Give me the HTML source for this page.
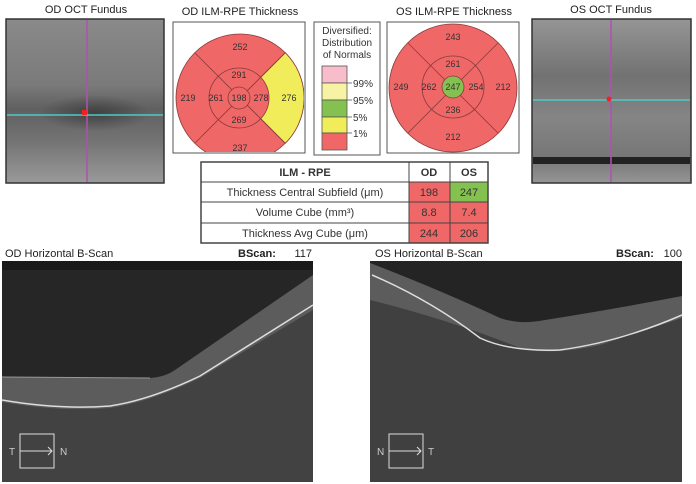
<!DOCTYPE html>
<html><head><meta charset="utf-8"><style>
html,body{margin:0;padding:0;background:#fff;}
svg{display:block;font-family:"Liberation Sans",sans-serif;}
</style></head><body>
<svg width="696" height="484" viewBox="0 0 696 484" xmlns="http://www.w3.org/2000/svg">
<defs>
<linearGradient id="odf" x1="0" y1="0" x2="0" y2="1">
<stop offset="0" stop-color="#8a8a8a"/><stop offset="0.4" stop-color="#7a7a7a"/><stop offset="0.55" stop-color="#606060"/><stop offset="0.75" stop-color="#747474"/><stop offset="1" stop-color="#9a9a9a"/></linearGradient>
<radialGradient id="odspot" cx="0.5" cy="0.5" r="0.5"><stop offset="0" stop-color="#333" stop-opacity="0.7"/><stop offset="1" stop-color="#333" stop-opacity="0"/></radialGradient>
<linearGradient id="osf" x1="0" y1="0" x2="0" y2="1">
<stop offset="0" stop-color="#959595"/><stop offset="0.35" stop-color="#727272"/><stop offset="0.6" stop-color="#858585"/><stop offset="0.85" stop-color="#767676"/><stop offset="1" stop-color="#959595"/></linearGradient>
</defs>

<g font-size="11" fill="#222" text-anchor="middle">
<text x="86" y="13">OD OCT Fundus</text>
<text x="240" y="15">OD ILM-RPE Thickness</text>
<text x="454" y="15">OS ILM-RPE Thickness</text>
<text x="611" y="13">OS OCT Fundus</text>
</g>

<!-- OD fundus -->
<rect x="6" y="19" width="158" height="164" fill="url(#odf)"/>
<ellipse cx="95" cy="113" rx="55" ry="18" fill="url(#odspot)"/>
<rect x="6" y="19" width="158" height="164" fill="none" stroke="#333" stroke-width="1.5"/>
<line x1="87" y1="20" x2="87" y2="182" stroke="#b050b0" stroke-width="1.5"/>
<line x1="7" y1="115" x2="163" y2="115" stroke="#50c8c8" stroke-width="1.5"/>
<rect x="82" y="110" width="5" height="5" fill="#e22"/>

<!-- OS fundus -->
<rect x="532" y="19" width="159" height="164" fill="url(#osf)"/>
<rect x="533" y="157" width="157" height="7" fill="#222"/>
<rect x="532" y="19" width="159" height="164" fill="none" stroke="#333" stroke-width="1.5"/>
<line x1="611" y1="20" x2="611" y2="182" stroke="#b050b0" stroke-width="1.5"/>
<line x1="533" y1="100" x2="690" y2="100" stroke="#50c8c8" stroke-width="1.5"/>
<circle cx="609" cy="99" r="2.5" fill="#e22"/>

<!-- OD thickness map -->
<rect x="173" y="22" width="132" height="131" fill="#fff" stroke="#555"/>
<clipPath id="c1"><rect x="174" y="23" width="130" height="129"/></clipPath>
<g clip-path="url(#c1)">
<circle cx="240" cy="98" r="64" fill="#ef6767" stroke="#8a3a3a" stroke-width="0.8"/>
<path d="M240 98 L285.3 52.7 A64 64 0 0 1 285.3 143.3 Z" fill="#f1ec5a" stroke="#8a3a3a" stroke-width="0.8"/>
<circle cx="239" cy="98" r="30" fill="#ef6767" stroke="#8a3a3a" stroke-width="0.8"/>
<line x1="195" y1="53" x2="285" y2="143" stroke="#8a3a3a" stroke-width="0.8"/>
<line x1="285" y1="53" x2="195" y2="143" stroke="#8a3a3a" stroke-width="0.8"/>
<circle cx="239" cy="98" r="11" fill="#ef6767" stroke="#8a3a3a" stroke-width="0.8"/>
</g>
<g font-size="9" fill="#333" text-anchor="middle">
<text x="240" y="50">252</text><text x="239" y="78">291</text>
<text x="188" y="101">219</text><text x="216" y="101">261</text>
<text x="239" y="101">198</text><text x="261" y="101">278</text>
<text x="289" y="101">276</text><text x="239" y="123">269</text>
<text x="240" y="151">237</text>
</g>

<!-- legend -->
<rect x="314" y="22" width="66" height="133" fill="#fff" stroke="#555"/>
<g font-size="10" fill="#333" text-anchor="middle">
<text x="347" y="34">Diversified:</text><text x="347" y="46">Distribution</text><text x="347" y="58">of Normals</text>
</g>
<g stroke="#555" stroke-width="0.8">
<rect x="322" y="66" width="25" height="17" fill="#f9bccb"/>
<rect x="322" y="83" width="25" height="17" fill="#f8f2a4"/>
<rect x="322" y="100" width="25" height="17" fill="#85c150"/>
<rect x="322" y="117" width="25" height="16" fill="#f1ec5a"/>
<rect x="322" y="133" width="25" height="17" fill="#ef6767"/>
<line x1="347" y1="83" x2="352" y2="83"/><line x1="347" y1="100" x2="352" y2="100"/>
<line x1="347" y1="117" x2="352" y2="117"/><line x1="347" y1="133" x2="352" y2="133"/>
</g>
<g font-size="10" fill="#333">
<text x="353" y="87">99%</text><text x="353" y="104">95%</text><text x="353" y="121">5%</text><text x="353" y="137">1%</text>
</g>

<!-- OS thickness map -->
<rect x="387" y="22" width="132" height="131" fill="#fff" stroke="#555"/>
<circle cx="453" cy="88" r="64" fill="#ef6767" stroke="#8a3a3a" stroke-width="0.8"/>
<circle cx="453" cy="87" r="31" fill="#ef6767" stroke="#8a3a3a" stroke-width="0.8"/>
<line x1="408" y1="43" x2="498" y2="133" stroke="#8a3a3a" stroke-width="0.8"/>
<line x1="498" y1="43" x2="408" y2="133" stroke="#8a3a3a" stroke-width="0.8"/>
<circle cx="453" cy="87" r="11" fill="#85c150" stroke="#8a3a3a" stroke-width="0.8"/>
<g font-size="9" fill="#333" text-anchor="middle">
<text x="453" y="40">243</text><text x="453" y="67">261</text>
<text x="401" y="90">249</text><text x="429" y="90">262</text>
<text x="453" y="90">247</text><text x="476" y="90">254</text>
<text x="503" y="90">212</text><text x="453" y="113">236</text>
<text x="453" y="140">212</text>
</g>

<!-- table -->
<g stroke="#444" stroke-width="1">
<rect x="409" y="182" width="41" height="61" fill="#ef6767" stroke="none"/>
<rect x="450" y="202" width="38" height="41" fill="#ef6767" stroke="none"/>
<rect x="450" y="182" width="38" height="20" fill="#85c150" stroke="none"/>
<rect x="201" y="162" width="287" height="81" fill="none" stroke-width="1.5"/>
<line x1="201" y1="182" x2="488" y2="182"/><line x1="201" y1="202" x2="488" y2="202"/><line x1="201" y1="223" x2="488" y2="223"/>
<line x1="409" y1="162" x2="409" y2="243"/><line x1="450" y1="162" x2="450" y2="243"/>
</g>
<g font-size="11" fill="#333" text-anchor="middle">
<text x="305" y="176" font-weight="bold">ILM - RPE</text>
<text x="429" y="176" font-weight="bold">OD</text><text x="469" y="176" font-weight="bold">OS</text>
<text x="305" y="196">Thickness Central Subfield (μm)</text>
<text x="305" y="216">Volume Cube (mm³)</text>
<text x="305" y="237">Thickness Avg Cube (μm)</text>
<text x="429" y="196">198</text><text x="469" y="196">247</text>
<text x="429" y="216">8.8</text><text x="469" y="216">7.4</text>
<text x="429" y="237">244</text><text x="469" y="237">206</text>
</g>

<g font-size="11" fill="#222">
<text x="5" y="257">OD Horizontal B-Scan</text>
<text x="238" y="257" font-weight="bold">BScan:</text><text x="312" y="257" text-anchor="end">117</text>
<text x="375" y="257">OS Horizontal B-Scan</text>
<text x="616" y="257" font-weight="bold">BScan:</text><text x="682" y="257" text-anchor="end">100</text>
</g>

<!-- OD B-scan -->
<clipPath id="c2"><rect x="2" y="261" width="311" height="221"/></clipPath>
<g clip-path="url(#c2)">
<rect x="2" y="261" width="311" height="221" fill="#262626"/>
<rect x="2" y="261" width="311" height="9" fill="#1a1a1a"/>
<path d="M2 377 L150 378 Q165 377 175 370 L313 275 L313 482 L2 482 Z" fill="#5c5c5c"/>
<path d="M2 402 Q60 412 110 408 Q150 402 200 378 L313 310 L313 482 L2 482 Z" fill="#424242"/>
<path d="M2 400 Q60 410 110 406 Q150 400 200 376 L313 305" fill="none" stroke="#ddd" stroke-width="1.5"/>
<path d="M2 377 L150 378" fill="none" stroke="#999" stroke-width="1"/>
</g>
<g stroke="#ddd" stroke-width="1" fill="none">
<rect x="20" y="434" width="34" height="34"/><line x1="20" y1="451" x2="52" y2="451"/><polyline points="48,447 52,451 48,455"/>
</g>
<text x="9" y="455" font-size="10" fill="#ccc">T</text><text x="60" y="455" font-size="10" fill="#ccc">N</text>

<!-- OS B-scan -->
<clipPath id="c3"><rect x="370" y="261" width="312" height="221"/></clipPath>
<g clip-path="url(#c3)">
<rect x="370" y="261" width="312" height="221" fill="#242424"/>
<path d="M370 263 Q440 290 500 318 Q520 325 545 320 Q620 308 682 296 L682 482 L370 482 Z" fill="#5c5c5c"/>
<path d="M370 300 Q450 320 520 348 Q550 356 600 345 L682 318 L682 482 L370 482 Z" fill="#404040"/>
<path d="M372 275 Q430 300 480 338 Q510 352 560 350 Q620 342 682 315" fill="none" stroke="#ddd" stroke-width="1.5"/>
</g>
<g stroke="#ddd" stroke-width="1" fill="none">
<rect x="389" y="434" width="34" height="34"/><line x1="389" y1="451" x2="421" y2="451"/><polyline points="417,447 421,451 417,455"/>
</g>
<text x="377" y="455" font-size="10" fill="#ccc">N</text><text x="428" y="455" font-size="10" fill="#ccc">T</text>
</svg>
</body></html>
